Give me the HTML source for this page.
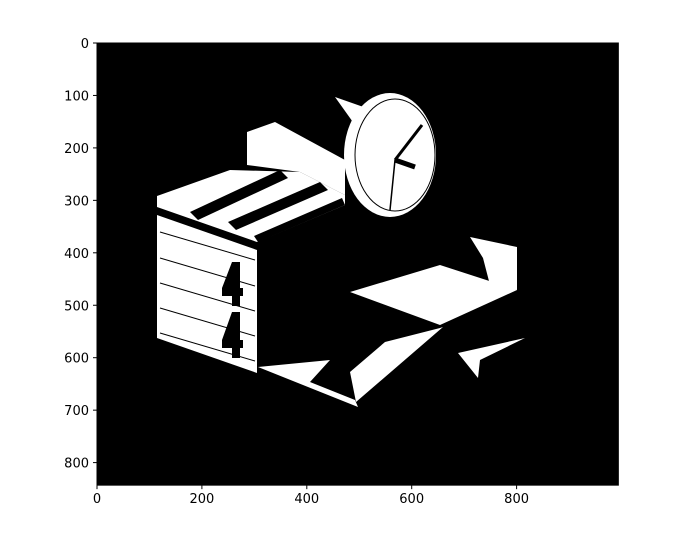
<!DOCTYPE html>
<html><head><meta charset="utf-8"><style>
body{margin:0;background:#fff;font-family:"Liberation Sans","DejaVu Sans",sans-serif}
svg text{font-family:"DejaVu Sans","Liberation Sans",sans-serif;font-size:13px;fill:#000}
</style></head><body>
<svg id="c" width="688" height="532">
<g id="img"></g>
<g id="ax"></g>
</svg>
<script>
const xTicks=[0,200,400,600,800];
const yTicks=[0,100,200,300,400,500,600,700,800];
const imgW=994, imgH=843;
const X0=97,Y0=43,S=0.5245;
const sx=v=>X0+v*S, sy=v=>Y0+v*S;
const NS='http://www.w3.org/2000/svg';
const svg=document.getElementById('c'),img=document.getElementById('img'),ax=document.getElementById('ax');
function mk(p,t,a){const e=document.createElementNS(NS,t);for(const k in a)e.setAttribute(k,a[k]);p.appendChild(e);return e;}
const bg=mk(img,'rect',{x:sx(0),y:sy(0),width:imgW*S,height:imgH*S,fill:'#000'});


const whites=[
 ['box-front',"157,215 257,250 257,373 157,338"],
 ['box-top',"157,196 230,170 300,172 345,195 345,205 257,242 157,207"],
 ['back-block',"247,132 275,122 345,160 345,195 300,172 247,165"],
 ['clock-flag',"335,97 372,110 360,132"],
 ['right-box-top',"350,292 440,265 517,290 440,325"],
 ['right-box-back',"470,237 517,247 517,290 490,285 483,258"],
 ['floor-shadow',"258,367 330,360 310,382 355,400 358,407"],
 ['floor-band',"350,372 385,342 440,328 443,327 356,402"],
 ['right-spike',"458,353 525,338 480,360 478,378"]
];
whites.forEach(w=>{const e=mk(img,'polygon',{points:w[1],fill:'#fff'});

});
const blacks=[
 ['stripe-1',"190,212 280,170 288,178 198,220"],
 ['stripe-2',"228,222 320,182 328,190 236,230"],
 ['stripe-3',"254,236 342,198 345,205 258,242"],
 ['digit-4-top',"232,262 240,262 240,288 243,288 243,296 240,296 240,306 232,306 232,296 222,296 222,288"],
 ['digit-4-bottom',"232,312 240,312 240,340 243,340 243,348 240,348 240,358 232,358 232,348 222,348 222,340"]
];
blacks.forEach(w=>{const e=mk(img,'polygon',{points:w[1],fill:'#000'});

});
[232,258,283,308,333].forEach((y,i)=>{const l=mk(img,'line',{x1:160,y1:y,x2:255,y2:y+28,stroke:'#000','stroke-width':1});

});
const co=mk(img,'ellipse',{cx:390,cy:155,rx:46,ry:62,fill:'#fff'});


const cf=mk(img,'ellipse',{cx:395,cy:155,rx:40,ry:56,fill:'#fff',stroke:'#000','stroke-width':1});


[[395,160,422,125,3],[395,160,415,167,5],[395,160,390,210,1.5]].forEach(h=>{const l=mk(img,'line',{x1:h[0],y1:h[1],x2:h[2],y2:h[3],stroke:'#000','stroke-width':h[4]});

});
const fr=mk(ax,'rect',{x:sx(0),y:sy(0),width:imgW*S,height:imgH*S,fill:'none',stroke:'#000','stroke-width':1});


xTicks.forEach(v=>{const b=sy(imgH);
const t=mk(ax,'line',{x1:sx(v),y1:b,x2:sx(v),y2:b+4,stroke:'#000'});


const l=mk(ax,'text',{x:sx(v),y:b+18,'text-anchor':'middle'});l.textContent=v;

});
yTicks.forEach(v=>{const t=mk(ax,'line',{x1:X0-4,y1:sy(v),x2:X0,y2:sy(v),stroke:'#000'});


const l=mk(ax,'text',{x:X0-8,y:sy(v)+5,'text-anchor':'end'});l.textContent=v;

});
</script>
</body></html>
